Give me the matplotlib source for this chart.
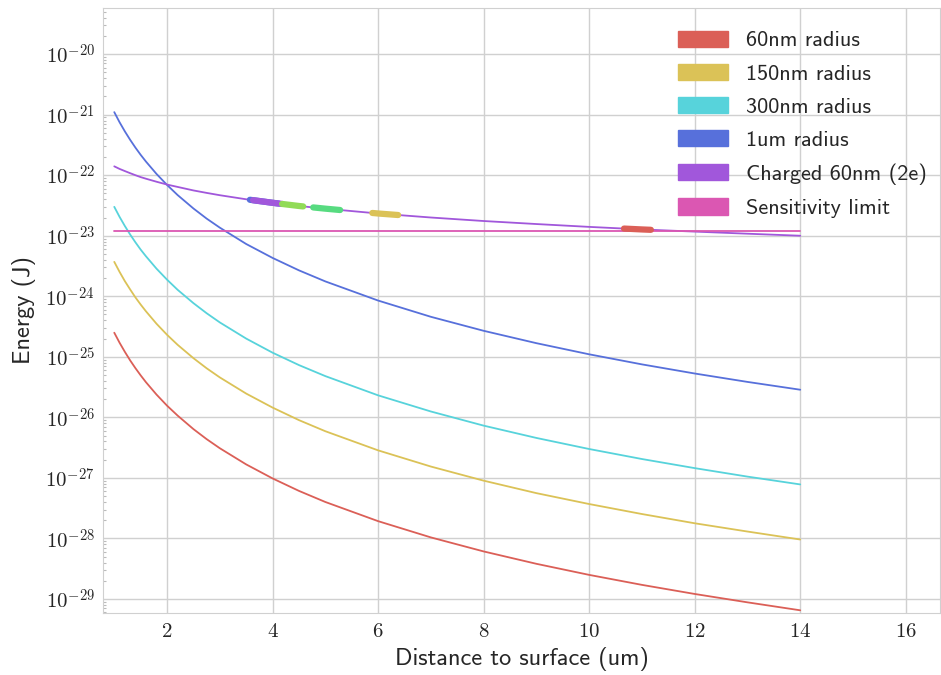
import numpy as np
import matplotlib
matplotlib.use("Agg")
import matplotlib.pyplot as plt
import matplotlib.patches as mpatches
import seaborn as sns
from matplotlib.ticker import FuncFormatter, FixedLocator, NullFormatter, MultipleLocator

# Distancia a la superficie (um) y energia (J)
distancia = [1, 1.1, 1.2, 1.3, 1.4, 1.5, 1.6, 1.8, 2, 2.2, 2.5, 2.75, 3, 3.5, 4, 4.5, 5,
             6, 7, 8, 9, 10, 11, 12, 13, 14]

energia_60nm = [2.5e-25, 1.71e-25, 1.21e-25, 8.75e-26, 6.51e-26, 4.94e-26, 3.81e-26, 2.38e-26,
                1.56e-26, 1.07e-26, 6.4e-27, 4.37e-27, 3.09e-27, 1.67e-27, 9.8e-28, 6.1e-28,
                4.0e-28, 1.93e-28, 1.04e-28, 6.1e-29, 3.81e-29, 2.5e-29, 1.71e-29, 1.21e-29,
                8.8e-30, 6.5e-30]
energia_150nm = [3.7e-24, 2.53e-24, 1.78e-24, 1.30e-24, 9.6e-25, 7.3e-25, 5.65e-25, 3.52e-25,
                 2.31e-25, 1.58e-25, 9.5e-26, 6.47e-26, 4.57e-26, 2.47e-26, 1.45e-26, 9.0e-27,
                 5.9e-27, 2.85e-27, 1.54e-27, 9.0e-28, 5.6e-28, 3.7e-28, 2.53e-28, 1.78e-28,
                 1.30e-28, 9.6e-29]
energia_300nm = [3.0e-23, 2.05e-23, 1.45e-23, 1.05e-23, 7.8e-24, 5.9e-24, 4.58e-24, 2.86e-24,
                 1.88e-24, 1.28e-24, 7.7e-25, 5.25e-25, 3.7e-25, 2.0e-25, 1.17e-25, 7.3e-26,
                 4.8e-26, 2.31e-26, 1.25e-26, 7.3e-27, 4.57e-27, 3.0e-27, 2.05e-27, 1.45e-27,
                 1.05e-27, 7.8e-28]
energia_1um = [1.1e-21, 7.5e-22, 5.3e-22, 3.85e-22, 2.86e-22, 2.17e-22, 1.68e-22, 1.05e-22,
               6.9e-23, 4.7e-23, 2.82e-23, 1.92e-23, 1.36e-23, 7.3e-24, 4.3e-24, 2.68e-24,
               1.76e-24, 8.5e-25, 4.58e-25, 2.69e-25, 1.68e-25, 1.1e-25, 7.5e-26, 5.3e-26,
               3.85e-26, 2.86e-26]
energia_cargada = [1.4e-22, 1.27e-22, 1.17e-22, 1.08e-22, 1.0e-22, 9.3e-23, 8.75e-23, 7.8e-23,
                   7.0e-23, 6.4e-23, 5.6e-23, 5.1e-23, 4.67e-23, 4.0e-23, 3.5e-23, 3.1e-23,
                   2.8e-23, 2.33e-23, 2.0e-23, 1.75e-23, 1.56e-23, 1.4e-23, 1.27e-23, 1.17e-23,
                   1.08e-23, 1.0e-23]
limite_sensibilidad = 1.2e-23

etiquetas = ["60nm radius", "150nm radius", "300nm radius", "1um radius",
             "Charged 60nm (2e)", "Sensitivity limit"]

# Tramos resaltados sobre la curva cargada: (inicio, fin, indice de color)
tramos_inicio = [3.57, 3.63, 4.18, 4.77, 5.89, 10.66]
tramos_fin = [4.12, 4.18, 4.58, 5.28, 6.38, 11.17]
tramos_color = [5, 6, 2, 3, 1, 0]

sns.set_style("whitegrid")
plt.rcParams["mathtext.fontset"] = "cm"

paleta = sns.color_palette("hls", 8)
colores = [paleta[0], paleta[1], paleta[4], paleta[5], paleta[6], paleta[7]]

fig = plt.figure(figsize=(9.41, 6.75), dpi=100)
ax = fig.add_axes([0.1095, 0.092, 0.8895, 0.896])

series = [energia_60nm, energia_150nm, energia_300nm, energia_1um, energia_cargada]
for valores, color in zip(series, colores[:5]):
    ax.plot(distancia, valores, color=color, lw=1.3)

ax.plot([distancia[0], distancia[-1]], [limite_sensibilidad, limite_sensibilidad],
        color=colores[5], lw=1.3)

# Los tramos se ubican sobre la curva cargada interpolando en escala logaritmica
log_cargada = np.log10(energia_cargada)
for x0, x1, ic in zip(tramos_inicio, tramos_fin, tramos_color):
    xs = np.linspace(x0, x1, 20)
    ys = 10 ** np.interp(xs, distancia, log_cargada)
    ax.plot(xs, ys, color=paleta[ic], lw=4.5, solid_capstyle="round")

ax.set_yscale("log")
ax.set_xlim(0.787, 16.65)
ax.set_ylim(10 ** -29.23, 10 ** -19.24)

decadas = np.arange(-29, -19)
ax.yaxis.set_major_locator(FixedLocator(10.0 ** decadas))
menores = [m * 10.0 ** d for d in range(-30, -19) for m in range(2, 10)]
ax.yaxis.set_minor_locator(FixedLocator(menores))
ax.yaxis.set_minor_formatter(NullFormatter())
ax.yaxis.set_major_formatter(FuncFormatter(lambda v, p: r"$10^{%d}$" % round(np.log10(v))))
ax.xaxis.set_major_locator(MultipleLocator(2))
ax.xaxis.set_major_formatter(FuncFormatter(lambda v, p: r"$%d$" % v))

ax.tick_params(axis="both", which="major", labelsize=15, length=0, pad=6)
ax.tick_params(axis="y", which="minor", direction="in", length=2.5, width=0.8,
               color="#bbbbbb", left=True)

ax.grid(True, which="major", color="#d0d0d0", lw=1)
for spine in ax.spines.values():
    spine.set_color("#d0d0d0")

ax.set_xlabel("Distance to surface (um)", fontfamily="cmss10", fontsize=17.5, labelpad=4)
ax.set_ylabel("Energy (J)", fontfamily="cmss10", fontsize=17.5, labelpad=7)

parches = [mpatches.Patch(color=c, label=e) for c, e in zip(colores, etiquetas)]
ax.legend(handles=parches, loc="upper right", frameon=False,
          prop={"family": "cmss10", "size": 16},
          handlelength=2.25, handleheight=0.75, labelspacing=0.6, handletextpad=0.8,
          bbox_to_anchor=(1.008, 0.996))

fig.savefig("out.png", dpi=100)
